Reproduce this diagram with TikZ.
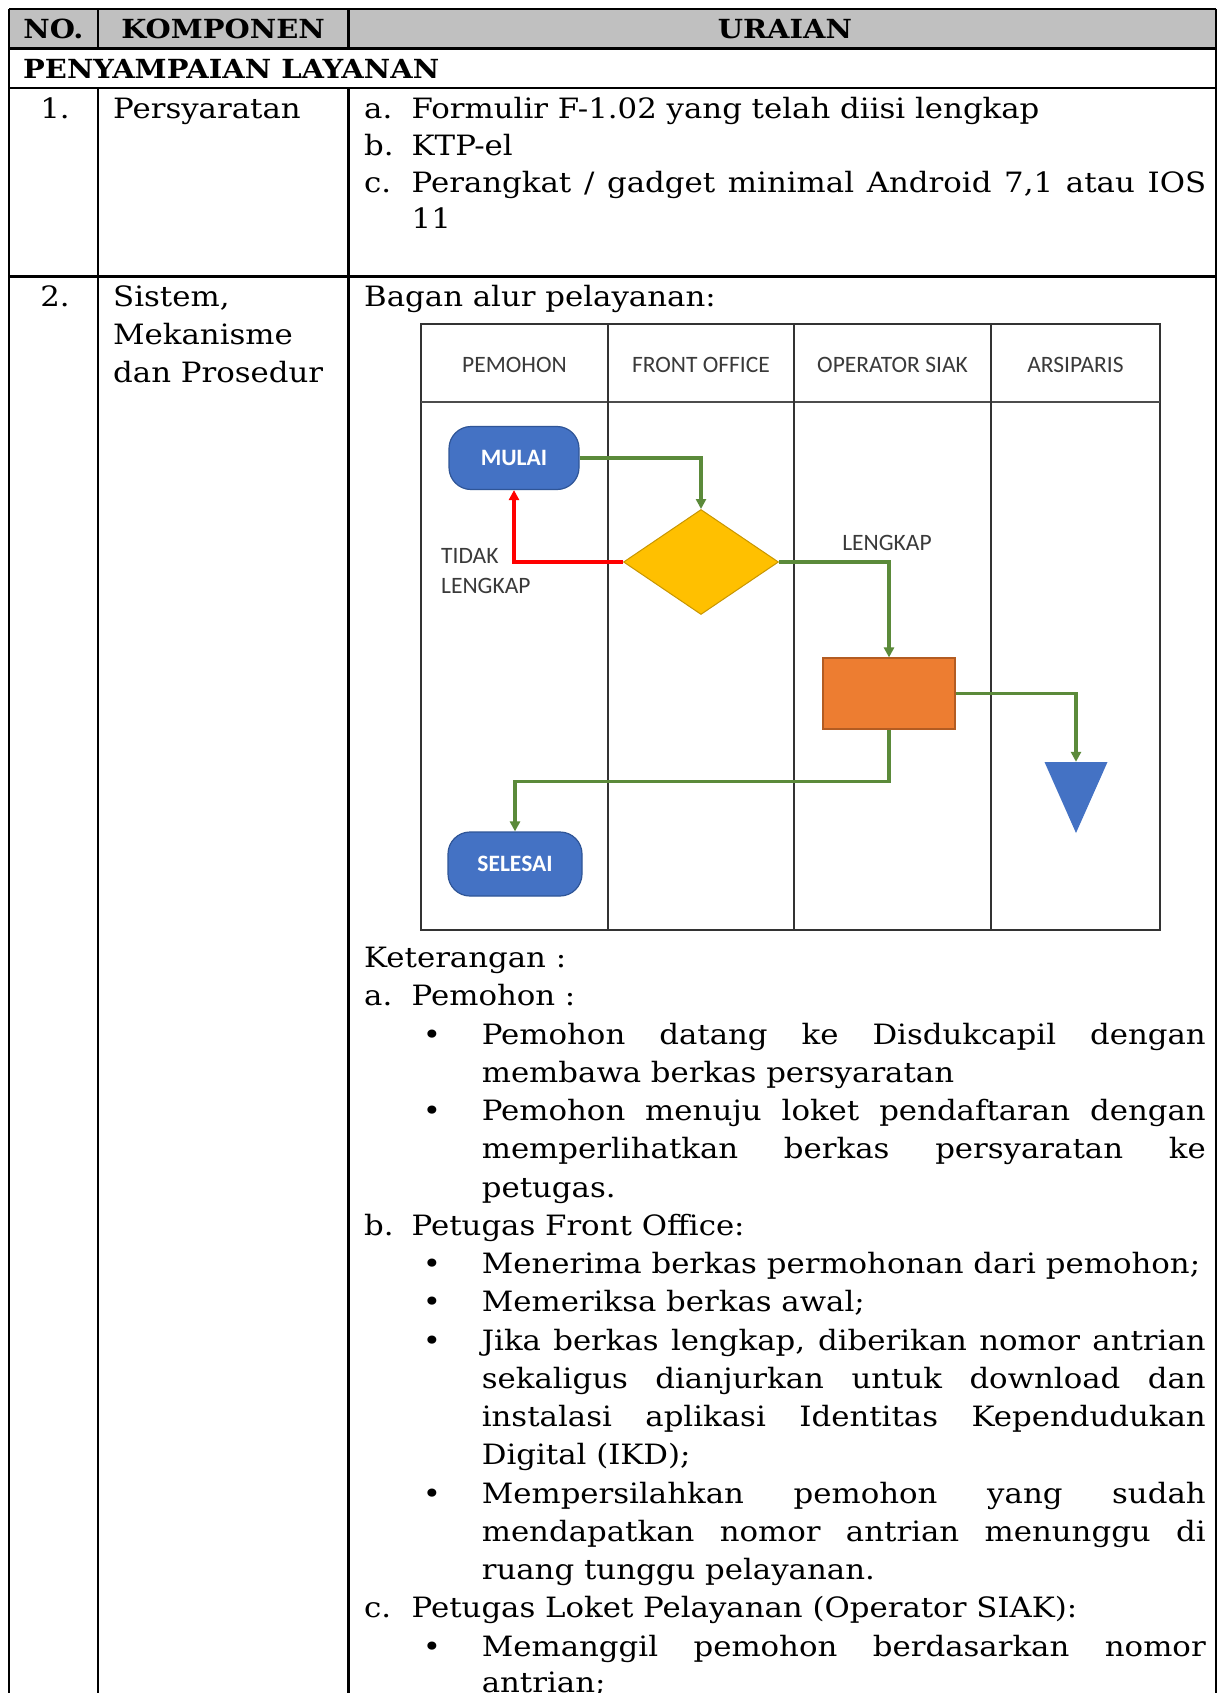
\documentclass[tikz,border=0pt]{standalone}
\usepackage{fontspec}
\setmainfont{DejaVu Serif}[FakeStretch=1.1]
\newfontfamily\lanefont{Carlito}
\usetikzlibrary{shapes.geometric,arrows.meta}

\definecolor{hdrgray}{HTML}{C0C0C0}
\definecolor{termfill}{HTML}{4472C4}
\definecolor{termedge}{HTML}{2F5597}
\definecolor{decfill}{HTML}{FFC000}
\definecolor{decedge}{HTML}{C89600}
\definecolor{procfill}{HTML}{ED7D31}
\definecolor{procedge}{HTML}{B35C22}
\definecolor{flowgreen}{HTML}{5B8A3A}
\definecolor{lanetext}{HTML}{3A3A3A}

\newcommand{\mytextsize}{\fontsize{28}{34}\selectfont}
\newcommand{\myheadsize}{\fontsize{26.3}{32}\selectfont\bfseries}
\newcommand{\jline}[1]{\makebox[724pt][s]{#1}}

\begin{document}
\begin{tikzpicture}[x=1pt,y=-1pt,
  tbl/.style={line width=2.2pt,draw=black},
  lane/.style={line width=1.8pt,draw=black!80},
  body/.style={anchor=base west,inner sep=0pt,font=\mytextsize},
  hdr/.style={anchor=base,inner sep=0pt,font=\myheadsize},
  dot/.style={anchor=base,inner sep=0pt,font=\mytextsize},
  lanehead/.style={inner sep=0pt,text=lanetext,font=\lanefont\fontsize{23.5}{26}\selectfont},
  term/.style={draw=termedge,fill=termfill,line width=1.2pt,rounded corners=22pt,
    minimum width=130pt,minimum height=63pt,inner sep=0pt,text=white,
    font=\lanefont\bfseries\fontsize{23.5}{26}\selectfont},
  flow/.style={draw=flowgreen,line width=3.5pt,-{Triangle[length=10pt,width=10pt]}},
  back/.style={draw=red,line width=4pt,-{Triangle[length=10pt,width=10pt]}},
  flowlabel/.style={inner sep=0pt,text=lanetext,font=\lanefont\fontsize{23.5}{30}\selectfont}
]
\useasboundingbox (0,0) rectangle (1217,1693);
\fill[white] (0,0) rectangle (1217,1693);

% ---------- table frame ----------
\fill[hdrgray] (9,9) rectangle (1216,48.5);
\draw[tbl] (9,9) -- (1216,9);
\draw[tbl] (9,48.5) -- (1216,48.5);
\draw[tbl] (9,88) -- (1216,88);
\draw[tbl] (9,276.5) -- (1216,276.5);
\draw[tbl] (9,9) -- (9,1693);
\draw[tbl] (1216,9) -- (1216,1693);
\draw[tbl] (98,9) -- (98,48.5);
\draw[tbl] (348.5,9) -- (348.5,48.5);
\draw[tbl] (98,88) -- (98,1693);
\draw[tbl] (348.5,88) -- (348.5,1693);

% ---------- header ----------
\node[hdr] (hno) at (53.5,39) {NO.};
\node[hdr] (hkomp) at (223,39) {KOMPONEN};
\node[hdr] (hur) at (785,39) {URAIAN};
\node[hdr,anchor=base west] (sect) at (23,78.5) {PENYAMPAIAN LAYANAN};

% ---------- row 1 ----------
\node[dot] (n1) at (55,118.5) {1.};
\node[body] (k1) at (113,118.5) {Persyaratan};
\node[body] (r1a) at (364,118.5) {a.};
\node[body] (r1at) at (411.5,118.5) {Formulir F-1.02 yang telah diisi lengkap};
\node[body] (r1b) at (364,155.3) {b.};
\node[body] (r1bt) at (411.5,155.3) {KTP-el};
\node[body] (r1c) at (364,192.1) {c.};
\node[body] (r1ct) at (411.5,192.1) {\makebox[794.5pt][s]{Perangkat / gadget minimal Android 7,1 atau IOS}};
\node[body] (r1ct2) at (411.5,228.9) {11};

% ---------- row 2 ----------
\node[dot] (n2) at (55,306.5) {2.};
\node[body] (k2a) at (113,306.5) {Sistem,};
\node[body] (k2b) at (113,344.5) {Mekanisme};
\node[body] (k2c) at (113,382.5) {dan Prosedur};
\node[body] (bagan) at (364,306.5) {Bagan alur pelayanan:};

% ---------- swimlane chart ----------
\draw[lane,line width=2.4pt] (421,324) rectangle (1160,930);
\draw[lane,line width=2.6pt,draw=black!70] (421,402) -- (1160,402);
\draw[lane] (608,324) -- (608,930);
\draw[lane] (794,324) -- (794,930);
\draw[lane] (991,324) -- (991,930);

\node[lanehead] (l1) at (514.5,365) {PEMOHON};
\node[lanehead] (l2) at (701,365) {FRONT OFFICE};
\node[lanehead] (l3) at (892.5,365) {OPERATOR SIAK};
\node[lanehead] (l4) at (1075.5,365) {ARSIPARIS};

\node[term] (mulai) at (514,458) {MULAI};
\node[diamond,draw=decedge,fill=decfill,line width=1pt,minimum width=155pt,
      minimum height=105pt,inner sep=0pt] (cek) at (701,562) {};
\node[rectangle,draw=procedge,fill=procfill,line width=1.2pt,minimum width=132pt,
      minimum height=71pt,inner sep=0pt] (proses) at (889,693.5) {};
\node[rectangle,minimum width=63pt,minimum height=71pt,inner sep=0pt,
      path picture={\fill[termfill] (path picture bounding box.north west)
        -- (path picture bounding box.north east)
        -- (path picture bounding box.south) -- cycle;}] (arsip) at (1076,797.5) {};
\node[term,minimum width=134pt,minimum height=64pt] (selesai) at (515,864) {SELESAI};

\draw[flow] (mulai.east) -| (cek.north);
\draw[back] (cek.west) -| (mulai.south);
\draw[flow] (cek.east) -| (proses.north);
\draw[flow] (proses.east) -| (arsip.north);
\draw[flow] (proses.south) -- ++(0,52) -| (selesai.north);

\node[flowlabel] (lbl1) at (887,543) {LENGKAP};
\node[flowlabel,anchor=west,align=left] (lbl2) at (441,571) {TIDAK\\LENGKAP};

% ---------- keterangan ----------
\node[body] (ket) at (364,967.5) {Keterangan :};
\node[body] (pa) at (364,1005.75) {a.};
\node[body] (pat) at (411.5,1005.75) {Pemohon :};
\node[dot] (pa1d) at (432,1044) {\textbullet};
\node[body] (pa1) at (481.6,1044) {\jline{Pemohon datang ke Disdukcapil dengan}};
\node[body] (pa1b) at (481.6,1082.25) {membawa berkas persyaratan};
\node[dot] (pa2d) at (432,1120.5) {\textbullet};
\node[body] (pa2) at (481.6,1120.5) {\jline{Pemohon menuju loket pendaftaran dengan}};
\node[body] (pa2b) at (481.6,1158.75) {\jline{memperlihatkan berkas persyaratan ke}};
\node[body] (pa2c) at (481.6,1197) {petugas.};

\node[body] (pb) at (364,1235.25) {b.};
\node[body] (pbt) at (411.5,1235.25) {Petugas Front Office:};
\node[dot] (pb1d) at (432,1273.5) {\textbullet};
\node[body] (pb1) at (481.6,1273.5) {Menerima berkas permohonan dari pemohon;};
\node[dot] (pb2d) at (432,1311.75) {\textbullet};
\node[body] (pb2) at (481.6,1311.75) {Memeriksa berkas awal;};
\node[dot] (pb3d) at (432,1350) {\textbullet};
\node[body] (pb3) at (481.6,1350) {\jline{Jika berkas lengkap, diberikan nomor antrian}};
\node[body] (pb3b) at (481.6,1388.25) {\jline{sekaligus dianjurkan untuk download dan}};
\node[body] (pb3c) at (481.6,1426.5) {\jline{instalasi aplikasi Identitas Kependudukan}};
\node[body] (pb3d2) at (481.6,1464.75) {Digital (IKD);};
\node[dot] (pb4d) at (432,1503) {\textbullet};
\node[body] (pb4) at (481.6,1503) {\jline{Mempersilahkan pemohon yang sudah}};
\node[body] (pb4b) at (481.6,1541.25) {\jline{mendapatkan nomor antrian menunggu di}};
\node[body] (pb4c) at (481.6,1579.5) {ruang tunggu pelayanan.};

\node[body] (pc) at (364,1617.75) {c.};
\node[body] (pct) at (411.5,1617.75) {Petugas Loket Pelayanan (Operator SIAK):};
\node[dot] (pc1d) at (432,1656) {\textbullet};
\node[body] (pc1) at (481.6,1656) {\jline{Memanggil pemohon berdasarkan nomor}};
\node[body] (pc1b) at (481.6,1692) {antrian;};
\end{tikzpicture}
\end{document}
